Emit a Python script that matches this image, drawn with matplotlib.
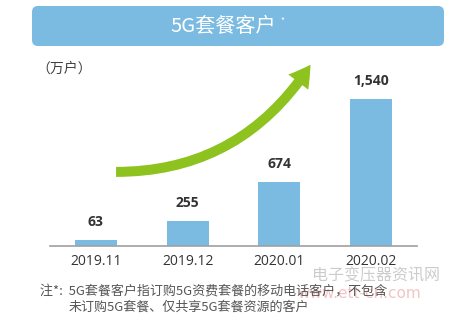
import matplotlib
matplotlib.use('Agg')

import matplotlib.pyplot as plt
from matplotlib.patches import FancyBboxPatch, FancyArrowPatch
from matplotlib.path import Path

plt.rcParams['font.family'] = ['Noto Sans CJK SC', 'DejaVu Sans']

# 数据
months = ['2019.11', '2019.12', '2020.01', '2020.02']
subscribers = [63, 255, 674, 1540]
value_labels = ['63', '255', '674', '1,540']

title = '5G套餐客户'
unit = '（万户）'
note_1 = '注*:  5G套餐客户指订购5G资费套餐的移动电话客户，不包含'
note_2 = '未订购5G套餐、仅共享5G套餐资源的客户'

bar_color = '#7bbbe2'
arrow_color = '#8dc21f'
text_color = '#404040'

W, H = 470, 322
fig = plt.figure(figsize=(W / 100, H / 100), dpi=100, facecolor='white')

# 坐标轴区域 (像素 -> 比例)
ax_left, ax_right = 50, 417
ax_bottom, ax_top = 245.7, 70
ax = fig.add_axes([ax_left / W, 1 - ax_bottom / H,
                   (ax_right - ax_left) / W, (ax_bottom - ax_top) / H])

x = range(len(months))
ax.bar(x, subscribers, width=0.46, color=bar_color, zorder=2)
ax.set_xlim(-0.5, 3.5)
ax.set_ylim(0, 1848)

for i, (v, lab) in enumerate(zip(subscribers, value_labels)):
    ax.annotate(lab, (i, v), xytext=(0, 13), textcoords='offset points',
                ha='center', va='center', fontsize=10, fontweight='bold',
                color='#333333', family=['Open Sans', 'DejaVu Sans'])

ax.set_xticks(list(x))
ax.set_xticklabels(months, fontsize=10, color='#333333',
                   family=['Open Sans', 'DejaVu Sans'])
ax.tick_params(axis='x', length=0, pad=6)
ax.set_yticks([])
for s in ['top', 'right', 'left']:
    ax.spines[s].set_visible(False)
ax.spines['bottom'].set_color('#a0a0a0')
ax.spines['bottom'].set_linewidth(1.2)
ax.set_facecolor('none')

# 增长箭头 (装饰)
verts = [(0.18, 0.42), (0.52, 0.42), (0.71, 1.03)]
arrow_path = Path(verts, [Path.MOVETO, Path.CURVE3, Path.CURVE3])
arrow = FancyArrowPatch(path=arrow_path, transform=ax.transAxes,
                        arrowstyle='simple,head_width=2.0,head_length=1.7,tail_width=0.8',
                        mutation_scale=9, color=arrow_color, lw=0, zorder=3,
                        clip_on=False)
ax.add_patch(arrow)

# 标题框
box = FancyBboxPatch((0.32, (H - 46) / 100), 4.12, 0.40,
                     boxstyle='round,pad=0,rounding_size=0.06',
                     transform=fig.dpi_scale_trans, facecolor=bar_color,
                     edgecolor='none')
fig.patches.append(box)
fig.text(223 / W, 1 - 27 / H, title, ha='center', va='center',
         fontsize=14.5, color='white')
fig.text(280 / W, 1 - 21 / H, '*', ha='left', va='center',
         fontsize=6, color='white')

fig.text(36 / W, 1 - 69 / H, unit, ha='left', va='center',
         fontsize=10, color=text_color)

# 水印
fig.text(312 / W, 1 - 276 / H, '电子变压器资讯网', ha='left', va='center',
         fontsize=11.5, color='#cccccc')
fig.text(297 / W, 1 - 293 / H, 'www.ett-cn.com', ha='left', va='center',
         fontsize=11, color='#f2c4c4', family=['DejaVu Sans'])

# 注释
fig.text(40 / W, 1 - 291 / H, note_1, ha='left', va='center',
         fontsize=9.4, color='#555555')
fig.text(69 / W, 1 - 307 / H, note_2, ha='left', va='center',
         fontsize=9.4, color='#555555')

fig.savefig('out.png', dpi=100, facecolor='white')
